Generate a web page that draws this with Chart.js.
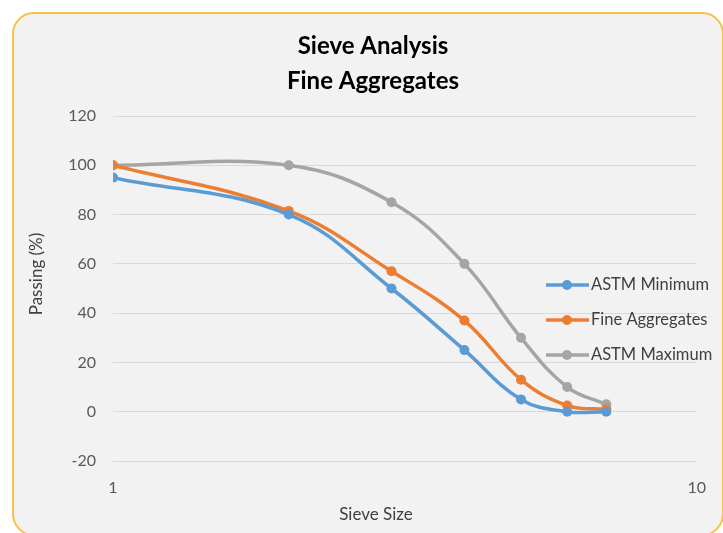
<!DOCTYPE html>
<html>
<head>
<meta charset="utf-8">
<script src="https://cdn.jsdelivr.net/npm/chart.js@4"></script>
<style>
  html, body { margin: 0; padding: 0; background: #ffffff; }
  #card {
    position: absolute; left: 12px; top: 12px; width: 712px; height: 524px;
    box-sizing: border-box; border: 2px solid #f6c243; border-radius: 22px;
    background: #f2f2f2;
  }
  #wrap { position: absolute; left: 0; top: 0; width: 723px; height: 533px; }
</style>
</head>
<body>
<div id="card"></div>
<div id="wrap"><canvas id="sieve-chart" width="723" height="533"></canvas></div>
<script>
// sieve sizes (log axis) and passing percentages
const sieveSizes = [1, 2, 3, 4, 5, 6, 7];
const astmMin = [95, 80, 50, 25, 5, 0, 0];
const fineAgg = [100, 81.5, 57, 37, 13, 2.5, 1];
const astmMax = [100, 100, 85, 60, 30, 10, 3];
const xTicks = [1, 10];
const seriesNames = ['ASTM Minimum', 'Fine Aggregates', 'ASTM Maximum'];
const seriesColors = ['#5b9bd5', '#ed7d31', '#a5a5a5'];

const FONT = 'Lato, "Open Sans", sans-serif';

function toPoints(vals) {
    return vals.map((v, i) => ({ x: sieveSizes[i], y: v }));
}

// titles, axis titles and legend drawn by hand to match the layout
const decorPlugin = {
    id: 'decor',
    afterDraw(chart) {
        const ctx = chart.ctx;
        ctx.save();
        ctx.fillStyle = '#000000';
        ctx.textAlign = 'center';
        ctx.textBaseline = 'middle';
        ctx.font = 'bold 24px ' + FONT;
        ctx.fillText('Sieve Analysis', 373, 46);
        ctx.fillText('Fine Aggregates', 373, 81);

        ctx.fillStyle = '#404040';
        ctx.font = '17px ' + FONT;
        ctx.fillText('Sieve Size', 376, 515);
        ctx.save();
        ctx.translate(37, 274);
        ctx.rotate(-Math.PI / 2);
        ctx.fillText('Passing (%)', 0, 0);
        ctx.restore();

        // legend
        const legendY = [285, 320, 355];
        ctx.textAlign = 'left';
        ctx.font = '16.5px ' + FONT;
        seriesNames.forEach((name, i) => {
            const y = legendY[i];
            ctx.strokeStyle = seriesColors[i];
            ctx.lineWidth = 3.5;
            ctx.beginPath();
            ctx.moveTo(546, y);
            ctx.lineTo(589, y);
            ctx.stroke();
            ctx.fillStyle = seriesColors[i];
            ctx.beginPath();
            ctx.arc(567, y, 5, 0, Math.PI * 2);
            ctx.fill();
            ctx.fillStyle = '#404040';
            ctx.fillText(name, 591, y);
        });
        ctx.restore();
    }
};

const datasets = [astmMin, fineAgg, astmMax].map((vals, i) => ({
    label: seriesNames[i],
    data: toPoints(vals),
    borderColor: seriesColors[i],
    backgroundColor: seriesColors[i],
    borderWidth: 3.5,
    pointRadius: 5,
    pointHoverRadius: 5,
    pointBorderWidth: 0,
    tension: 0.4,
    fill: false
}));
// blue on top, gray at the back
datasets[0].order = 1;
datasets[1].order = 2;
datasets[2].order = 3;

new Chart(document.getElementById('sieve-chart'), {
    type: 'line',
    data: { datasets: datasets },
    options: {
        responsive: false,
        animation: false,
        layout: { padding: { left: 0, right: 25, top: 116, bottom: 0 } },
        plugins: {
            legend: { display: false },
            tooltip: { enabled: false },
            title: { display: false }
        },
        scales: {
            x: {
                type: 'logarithmic',
                min: 1,
                max: 10,
                afterBuildTicks(scale) {
                    scale.ticks = xTicks.map(v => ({ value: v }));
                },
                afterFit(scale) { scale.height = 72; },
                grid: { display: false, drawTicks: false },
                border: { display: false },
                ticks: {
                    padding: 17,
                    maxRotation: 0,
                    autoSkip: false,
                    color: '#595959',
                    font: { family: FONT, size: 16 },
                    callback: v => String(v)
                }
            },
            y: {
                min: -20,
                max: 120,
                afterFit(scale) { scale.width = 113; },
                grid: { color: '#d9d9d9', lineWidth: 1, drawTicks: false },
                border: { display: false },
                ticks: {
                    stepSize: 20,
                    padding: 17,
                    color: '#595959',
                    font: { family: FONT, size: 16 }
                }
            }
        }
    },
    plugins: [decorPlugin]
});
</script>
</body>
</html>
